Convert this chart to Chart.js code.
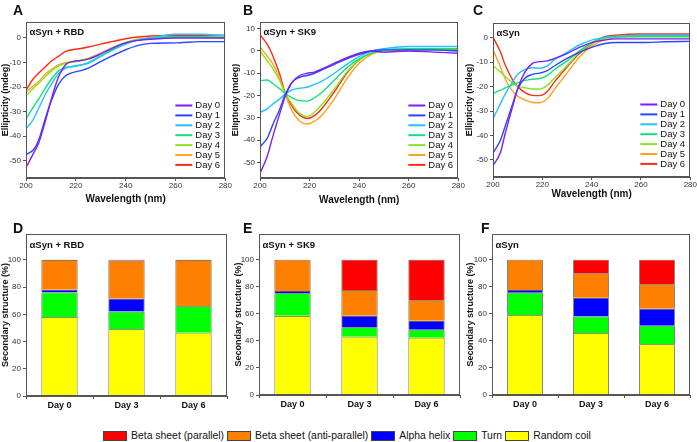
<!DOCTYPE html>
<html>
<head>
<meta charset="utf-8">
<script src="https://cdn.jsdelivr.net/npm/chart.js@4.4.0/dist/chart.umd.min.js"></script>
<style>
  html, body { margin: 0; padding: 0; background: #fff; }
  #fig { position: relative; width: 697px; height: 442px; font-family: "Liberation Sans", Arial, sans-serif; color: #111; }
  #fig canvas { position: absolute; }
  .tag { position: absolute; font-weight: bold; font-size: 14px; line-height: 14px; }
  #legend { position: absolute; left: 0; top: 430px; width: 697px; display: flex; justify-content: center; align-items: center; font-size: 10.4px; line-height: 12px; }
  .item { display: flex; align-items: center; margin-right: 3px; }
  .key { width: 22px; height: 8px; border: 1px solid #444; margin-right: 4px; }
</style>
</head>
<body>
<div id="fig">
  <canvas id="cdRbd" width="232" height="210" style="left:0;top:0"></canvas>
  <canvas id="cdSk9" width="233" height="210" style="left:232px;top:0"></canvas>
  <canvas id="cdSyn" width="232" height="210" style="left:465px;top:0"></canvas>
  <canvas id="ssRbdChart" width="232" height="210" style="left:0;top:210px"></canvas>
  <canvas id="ssSk9Chart" width="233" height="210" style="left:232px;top:210px"></canvas>
  <canvas id="ssSynChart" width="232" height="210" style="left:465px;top:210px"></canvas>
  <div class="tag" style="left:13px;top:3px">A</div>
  <div class="tag" style="left:243px;top:3px">B</div>
  <div class="tag" style="left:473px;top:3px">C</div>
  <div class="tag" style="left:13px;top:221px">D</div>
  <div class="tag" style="left:243px;top:221px">E</div>
  <div class="tag" style="left:481px;top:221px">F</div>
  <div id="legend"></div>
</div>
<script>
// CD spectra + secondary structure panels

// Wavelength sample points (nm)
const wavelengths = [200, 203, 205, 208, 210, 213, 216, 219, 222, 225, 230, 235, 240, 245, 250, 260, 270, 280];
const dayLabels = ['Day 0', 'Day 1', 'Day 2', 'Day 3', 'Day 4', 'Day 5', 'Day 6'];
const dayColors = ['#7d1cff', '#2a45ff', '#1fc4ff', '#14e07a', '#86e81a', '#ffa21c', '#ff2a12'];

// Ellipticity (mdeg), one row per day
const cdRbdValues = [
  [-52.7, -47, -43, -33, -25.5, -16, -10.8, -9.5, -9.2, -8.6, -6.5, -4, -2, -1, -0.5, 0, 0, 0],
  [-47.5, -45.5, -41.8, -32, -26, -19, -15.3, -14, -13.3, -12.3, -9.6, -7.1, -4.8, -3, -2.2, -2, -1.5, -1.5],
  [-37, -33, -28.8, -22.5, -19.2, -14.5, -12.3, -11.5, -11, -10.3, -7.5, -4.8, -2.5, -0.8, 0, 1.5, 1.5, 1],
  [-33, -28, -25, -20, -17, -13.5, -12, -11.6, -11, -10, -7.3, -4.5, -2.3, -0.8, 0, 0.5, 0.5, 0],
  [-23.5, -20.5, -18.5, -15.5, -13.7, -11.5, -10.3, -9.8, -9.2, -8.4, -6.4, -3.9, -1.9, -0.6, 0, 0.5, 0.5, 0.5],
  [-22, -19.5, -17.8, -14.5, -13, -11, -10, -9.6, -9, -8.2, -6.2, -3.7, -1.8, -0.5, 0, 0.5, 0.5, 0.8],
  [-21.2, -16.5, -14.4, -11.5, -9.6, -7.5, -5.5, -4.7, -4.3, -3.7, -2.5, -1.4, -0.3, 0.4, 0.8, 1, 1, 1],
];
const cdSk9Values = [
  [-55, -47, -39, -28, -21, -14, -11, -10, -9.5, -8, -5.5, -3, -1, 0, -0.5, 0, -0.5, -1],
  [-43, -39, -33.5, -26, -20, -14, -11.8, -11, -10, -8.5, -6, -3.5, -1.5, 0, 0.5, 0.5, 0.5, 0],
  [-27.5, -26, -24, -21.5, -19.5, -17.5, -16.7, -16.3, -15, -13.5, -10, -6, -2.5, 0, 1, 2, 2, 2],
  [-13.3, -13, -14.5, -17, -19, -21, -22.3, -22.5, -21, -18.5, -13, -7.5, -3.5, -1, 0.5, 1, 1, 1],
  [0, -4.5, -7.5, -13.5, -18.5, -24, -28, -29.5, -27.5, -24, -17, -9.5, -4, -1, 0, 0.5, 0.5, 0],
  [1.8, -2.5, -5.5, -12.5, -19, -27, -31.5, -32.8, -31.5, -28.8, -21.5, -12.5, -5.5, -1.5, 0, 0.5, 0.5, 0.5],
  [7.3, 2.8, -1.7, -10.7, -18.3, -25, -28.8, -30.3, -29, -25.8, -18.3, -10, -4, -1, 0, 0.5, 0.5, 0.5],
];
const cdSynValues = [
  [-52.3, -47, -39, -28, -21, -14, -10.5, -9.8, -9.5, -8.5, -6.5, -4, -2, -1, -0.5, -0.5, -0.5, -0.5],
  [-47.2, -42, -36, -27, -21, -16.5, -15, -14.5, -13.5, -11.5, -8.5, -6, -4, -2.5, -2, -2, -1.7, -1.5],
  [-33.2, -27, -23, -18, -15, -13, -12.3, -12.5, -11.5, -9, -6, -3, -1, 0, 0.5, 1, 1, 1],
  [-22.8, -21.5, -20.5, -19.2, -18.5, -17.5, -17, -16.7, -15.5, -13, -9.5, -5.5, -2, 0, 0.5, 0.5, 0.5, 0.5],
  [-11.5, -14, -16, -18.5, -19.8, -20.5, -21, -21, -19.5, -16.5, -11.5, -6, -2.5, -0.5, 0.5, 0.5, 0.5, 0.5],
  [-4.9, -12, -17, -22, -24, -25.5, -26.5, -26.6, -25, -21, -14.5, -8, -3.5, -1, 0, 0.5, 0.5, 0.5],
  [0.2, -5.8, -11.3, -17.4, -20, -22.5, -23.6, -23.7, -22, -18, -12, -6.5, -2.7, 0.3, 1, 1.5, 1.5, 1.5],
];
const cdTicks = [-50, -40, -30, -20, -10, 0];
const cdTicksSk9 = [-50, -40, -30, -20, -10, 0, 10];

// Secondary structure (%), bottom to top
const barDays = ['Day 0', 'Day 3', 'Day 6'];
const structureLabels = ['Random coil', 'Turn', 'Alpha helix', 'Beta sheet (anti-parallel)', 'Beta sheet (parallel)'];
const structureColors = ['#ffff00', '#00ff00', '#0000ff', '#ff8000', '#ff0000'];
const ssRbd = [
  [58, 49, 46.5],
  [18, 13, 19.5],
  [2, 9.4, 0],
  [22, 28, 34],
  [0, 0.6, 0],
];
const ssSk9 = [
  [58.5, 43, 42.3],
  [16.7, 7.1, 5.9],
  [1.7, 8.4, 6.6],
  [23.1, 19.1, 15.2],
  [0, 22.4, 30],
];
const ssSyn = [
  [59, 45.8, 37.5],
  [16.6, 12.3, 13.7],
  [2, 13.7, 12.5],
  [22.4, 18.2, 18.2],
  [0, 10, 18.1],
];
const ssTicks = [0, 20, 40, 60, 80, 100];

const FONT = '"Liberation Sans", Arial, sans-serif';
Chart.defaults.font.family = FONT;
Chart.defaults.color = '#333';

// box round the plot area
const frame = {
  id: 'frame',
  afterDraw(chart) {
    const { ctx, chartArea: a } = chart;
    ctx.save();
    ctx.strokeStyle = '#555';
    ctx.lineWidth = 1;
    ctx.strokeRect(Math.round(a.left) + 0.5, Math.round(a.top) + 0.5, Math.round(a.width) - 1, Math.round(a.height) - 1);
    ctx.restore();
  },
};

// sample name in the top left corner
const inset = {
  id: 'inset',
  afterDraw(chart, args, opts) {
    const { ctx, chartArea: a } = chart;
    ctx.save();
    ctx.font = 'bold 9.5px ' + FONT;
    ctx.fillStyle = '#111';
    ctx.textBaseline = 'middle';
    ctx.fillText(opts.text, a.left + 3.5, a.top + (opts.dy || 10));
    ctx.restore();
  },
};

// day legend in the lower right corner
const dayKey = {
  id: 'dayKey',
  afterDraw(chart) {
    const { ctx, chartArea: a } = chart;
    ctx.save();
    ctx.font = '9.5px ' + FONT;
    ctx.fillStyle = '#111';
    ctx.textBaseline = 'middle';
    chart.data.datasets.forEach((ds, i) => {
      const y = a.bottom - 72.5 + i * 9.9;
      ctx.strokeStyle = ds.borderColor;
      ctx.lineWidth = 2;
      ctx.beginPath();
      ctx.moveTo(a.right - 50, y);
      ctx.lineTo(a.right - 33, y);
      ctx.stroke();
      ctx.fillText(ds.label, a.right - 30, y);
    });
    ctx.restore();
  },
};

function axisStyle() {
  return {
    grid: { drawOnChartArea: false, drawTicks: true, tickLength: 3, color: '#555' },
    border: { color: '#555' },
  };
}

function createCdChart(id, text, series, yMin, yMax, yTicks, box) {
  return new Chart(document.getElementById(id), {
    type: 'line',
    data: {
      datasets: series.map((vals, i) => ({
        label: dayLabels[i],
        data: wavelengths.map((w, j) => ({ x: w, y: vals[j] })),
        borderColor: dayColors[i],
        borderWidth: 1.4,
        pointRadius: 0,
        cubicInterpolationMode: 'monotone',
        fill: false,
      })),
    },
    options: {
      responsive: false,
      animation: false,
      layout: { padding: { top: box.top, right: box.right, left: 0, bottom: 0 } },
      plugins: { legend: { display: false }, tooltip: { enabled: false }, inset: { text } },
      scales: {
        x: {
          type: 'linear',
          min: 200,
          max: 280,
          ...axisStyle(),
          ticks: { stepSize: 20, font: { size: 8 }, color: '#333', padding: 0, maxRotation: 0 },
          title: { display: true, text: 'Wavelength (nm)', color: '#111', font: { size: 10, weight: 'bold' }, padding: { top: 0, bottom: box.xPad } },
          afterFit(s) { s.height = box.xh; },
        },
        y: {
          min: yMin,
          max: yMax,
          ...axisStyle(),
          ticks: { font: { size: 8 }, color: '#333', padding: 2 },
          afterBuildTicks(s) { s.ticks = yTicks.map((v) => ({ value: v })); },
          title: { display: true, text: 'Ellipticity (mdeg)', color: '#111', font: { size: 9, weight: 'bold' }, padding: { top: box.yPad, bottom: 0 } },
          afterFit(s) { s.width = box.yw; },
        },
      },
    },
    plugins: [frame, inset, dayKey],
  });
}

function createBarChart(id, text, series, box) {
  return new Chart(document.getElementById(id), {
    type: 'bar',
    data: {
      labels: barDays,
      datasets: series.map((vals, i) => ({
        label: structureLabels[i],
        data: vals,
        backgroundColor: structureColors[i],
        borderColor: '#444',
        borderWidth: 0.8,
        barPercentage: 0.54,
        categoryPercentage: 1,
      })),
    },
    options: {
      responsive: false,
      animation: false,
      layout: { padding: { top: box.top, right: box.right, left: 0, bottom: 0 } },
      plugins: { legend: { display: false }, tooltip: { enabled: false }, inset: { text, dy: 11 } },
      scales: {
        x: {
          stacked: true,
          ...axisStyle(),
          ticks: { font: { size: 9, weight: 'bold' }, color: '#111', padding: 1 },
          afterFit(s) { s.height = box.xh; },
        },
        y: {
          stacked: true,
          min: 0,
          max: 119,
          ...axisStyle(),
          ticks: { font: { size: 8 }, color: '#333', padding: 2 },
          afterBuildTicks(s) { s.ticks = ssTicks.map((v) => ({ value: v })); },
          title: { display: true, text: 'Secondary structure (%)', color: '#111', font: { size: 9, weight: 'bold' }, padding: { top: box.yPad, bottom: 0 } },
          afterFit(s) { s.width = box.yw; },
        },
      },
    },
    plugins: [frame, inset],
  });
}

createCdChart('cdRbd', 'αSyn + RBD', cdRbdValues, -57, 6.5, cdTicks, { top: 22, right: 5, yw: 26, xh: 32, xPad: 5, yPad: 0 });
createCdChart('cdSk9', 'αSyn + SK9', cdSk9Values, -57, 13, cdTicksSk9, { top: 22, right: 5, yw: 28, xh: 32, xPad: 4, yPad: -2 });
createCdChart('cdSyn', 'αSyn', cdSynValues, -57, 6, cdTicks, { top: 23, right: 6, yw: 28, xh: 33, xPad: 10, yPad: -1 });

createBarChart('ssRbdChart', 'αSyn + RBD', ssRbd, { top: 24, right: 5, yw: 26, xh: 24, yPad: 0 });
createBarChart('ssSk9Chart', 'αSyn + SK9', ssSk9, { top: 24, right: 5, yw: 27, xh: 25, yPad: 1.5 });
createBarChart('ssSynChart', 'αSyn', ssSyn, { top: 24, right: 7, yw: 27, xh: 25, yPad: 0 });

// shared structure legend, top of the stack first
const legend = document.getElementById('legend');
for (let i = structureLabels.length - 1; i >= 0; i--) {
  const item = document.createElement('div');
  item.className = 'item';
  item.innerHTML = '<span class="key" style="background:' + structureColors[i] + '"></span><span>' + structureLabels[i] + '</span>';
  legend.appendChild(item);
}
</script>
</body>
</html>
